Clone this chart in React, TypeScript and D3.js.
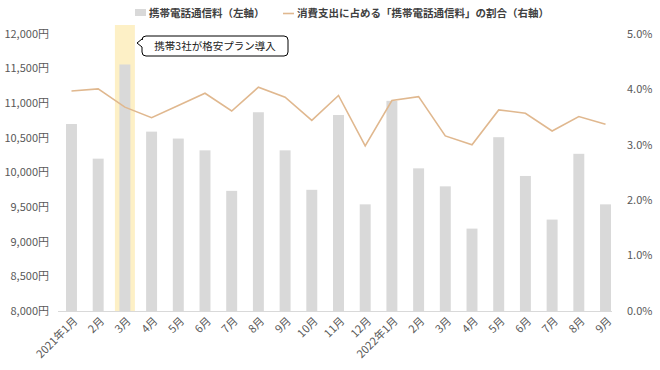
import React from 'react';
import * as d3 from 'd3';

const months = ['2021年1月', '2月', '3月', '4月', '5月', '6月', '7月', '8月', '9月', '10月', '11月', '12月',
  '2022年1月', '2月', '3月', '4月', '5月', '6月', '7月', '8月', '9月'];
// 携帯電話通信料（円）
const fees = [10700, 10200, 11560, 10590, 10490, 10320, 9735, 10870, 10320, 9750, 10830, 9540,
  11035, 10060, 9800, 9190, 10510, 9950, 9320, 10270, 9540];
// 消費支出に占める割合（%）
const shares = [3.97, 4.01, 3.68, 3.49, 3.71, 3.93, 3.61, 4.04, 3.86, 3.44, 3.89, 2.98,
  3.80, 3.87, 3.16, 3.00, 3.63, 3.57, 3.25, 3.51, 3.37];
const leftTicks = [8000, 8500, 9000, 9500, 10000, 10500, 11000, 11500, 12000];
const rightTicks = [0, 1, 2, 3, 4, 5];
const highlightIndex = 2;
const note = '携帯3社が格安プラン導入';
const legendBar = '携帯電話通信料（左軸）';
const legendLine = '消費支出に占める「携帯電話通信料」の割合（右軸）';

const W = 660, H = 370;
const marginLeft = 58, marginRight = 41, marginTop = 34, marginBottom = 59;
const font = '"Noto Sans CJK JP", "Noto Sans", sans-serif';
const textColor = '#595959';

export default function App() {
  const ref = React.useRef<SVGSVGElement>(null);

  React.useEffect(() => {
    const svg = d3.select(ref.current);
    svg.selectAll('*').remove();

    const x = d3.scaleBand<number>()
      .domain(d3.range(months.length))
      .range([marginLeft, W - marginRight])
      .paddingInner(0.59)
      .paddingOuter(0.3);
    const yL = d3.scaleLinear().domain([8000, 12000]).range([H - marginBottom, marginTop]);
    const yR = d3.scaleLinear().domain([0, 5]).range([H - marginBottom, marginTop]);
    const cx = (i: number) => x(i)! + x.bandwidth() / 2;

    // highlight band for 3月
    const step = x.step();
    svg.append('rect')
      .attr('x', cx(highlightIndex) - 10)
      .attr('y', marginTop - 9)
      .attr('width', 20)
      .attr('height', yL(8000) - marginTop + 9)
      .attr('fill', '#fdf0c6');

    // bars
    svg.append('g')
      .selectAll('rect')
      .data(fees)
      .join('rect')
      .attr('x', (_, i) => x(i)!)
      .attr('y', d => yL(d))
      .attr('width', x.bandwidth())
      .attr('height', d => yL(8000) - yL(d))
      .attr('fill', '#d9d9d9');

    // baseline
    svg.append('line')
      .attr('x1', marginLeft).attr('x2', W - marginRight - 7)
      .attr('y1', yL(8000) + 0.5).attr('y2', yL(8000) + 0.5)
      .attr('stroke', '#d9d9d9');

    // line
    const line = d3.line<number>()
      .x((_, i) => cx(i))
      .y(d => yR(d));
    svg.append('path')
      .datum(shares)
      .attr('d', line)
      .attr('fill', 'none')
      .attr('stroke', '#e0b88f')
      .attr('stroke-width', 1.6);

    // left axis
    svg.append('g')
      .selectAll('text')
      .data(leftTicks)
      .join('text')
      .attr('x', 49)
      .attr('y', d => yL(d))
      .attr('dy', '0.35em')
      .attr('text-anchor', 'end')
      .attr('font-family', font)
      .attr('font-size', 11)
      .attr('fill', textColor)
      .text(d => d3.format(',')(d) + '円');

    // right axis
    svg.append('g')
      .selectAll('text')
      .data(rightTicks)
      .join('text')
      .attr('x', 627)
      .attr('y', d => yR(d))
      .attr('dy', '0.35em')
      .attr('font-family', font)
      .attr('font-size', 11)
      .attr('fill', textColor)
      .text(d => d.toFixed(1) + '%');

    // x labels
    svg.append('g')
      .selectAll('text')
      .data(months)
      .join('text')
      .attr('transform', (_, i) => `translate(${cx(i) + 4},${yL(8000) + 8}) rotate(-45)`)
      .attr('text-anchor', 'end')
      .attr('dy', '0.35em')
      .attr('font-family', font)
      .attr('font-size', 11)
      .attr('fill', textColor)
      .text(d => d);

    // callout
    const bx = 142, by = 36, bw = 146, bh = 20, r = 4;
    const tipX = 137, tipY = 43;
    const p = d3.path();
    p.moveTo(bx + r, by);
    p.lineTo(bx + bw - r, by);
    p.arcTo(bx + bw, by, bx + bw, by + r, r);
    p.lineTo(bx + bw, by + bh - r);
    p.arcTo(bx + bw, by + bh, bx + bw - r, by + bh, r);
    p.lineTo(bx + r, by + bh);
    p.arcTo(bx, by + bh, bx, by + bh - r, r);
    p.lineTo(bx, tipY + 4);
    p.lineTo(tipX, tipY);
    p.lineTo(bx, by + 3);
    p.arcTo(bx, by, bx + r, by, r);
    p.closePath();
    svg.append('path')
      .attr('d', p.toString())
      .attr('fill', '#fff')
      .attr('stroke', '#000')
      .attr('stroke-width', 1);
    svg.append('text')
      .attr('x', bx + bw / 2)
      .attr('y', by + bh / 2)
      .attr('dy', '0.35em')
      .attr('text-anchor', 'middle')
      .attr('font-family', font)
      .attr('font-size', 10.5)
      .attr('fill', '#222')
      .text(note);

    // legend
    const lg = svg.append('g').attr('font-family', font).attr('font-size', 10.5)
      .attr('font-weight', 'bold').attr('fill', '#404040');
    lg.append('rect').attr('x', 135).attr('y', 9).attr('width', 11).attr('height', 7).attr('fill', '#d9d9d9');
    lg.append('text').attr('x', 149).attr('y', 13).attr('dy', '0.35em').text(legendBar);
    lg.append('line').attr('x1', 283).attr('x2', 294).attr('y1', 13.5).attr('y2', 13.5)
      .attr('stroke', '#e0b88f').attr('stroke-width', 1.6);
    lg.append('text').attr('x', 297).attr('y', 13).attr('dy', '0.35em').text(legendLine);
    void step;
  }, []);

  return (
    <svg ref={ref} width={W} height={H} style={{ position: 'absolute', left: 0, top: 0, background: '#fff' }} />
  );
}
